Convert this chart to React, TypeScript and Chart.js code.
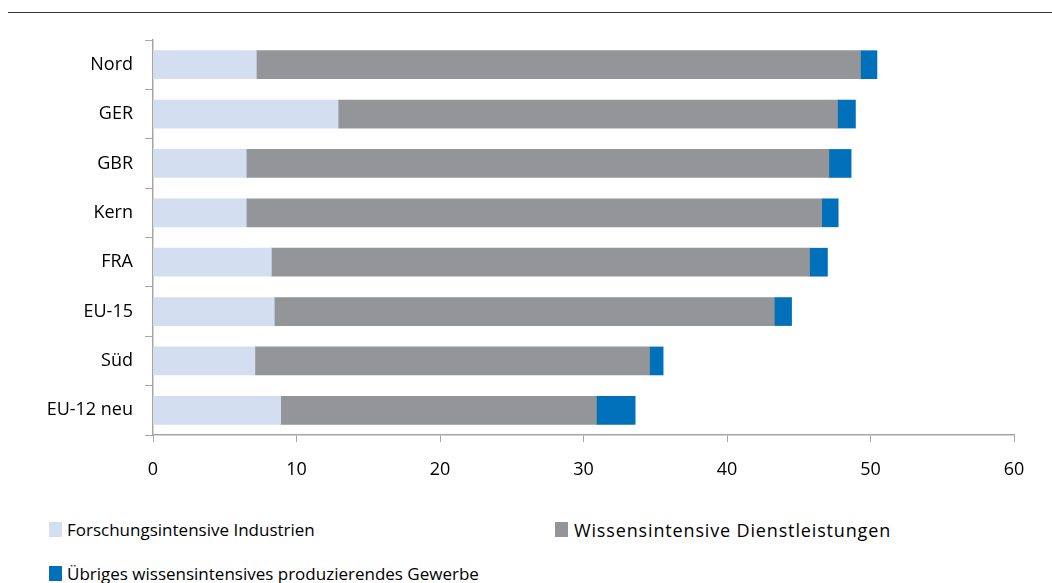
import React, { useEffect, useRef } from "react";
import { Chart, registerables } from "chart.js";

Chart.register(...registerables);

const categories = ["Nord", "GER", "GBR", "Kern", "FRA", "EU-15", "Süd", "EU-12 neu"];
const forschung = [7.2, 12.9, 6.5, 6.5, 8.25, 8.45, 7.1, 8.9];
const wissensDienst = [42.1, 34.8, 40.6, 40.1, 37.5, 34.85, 27.5, 22.0];
const uebriges = [1.15, 1.25, 1.55, 1.15, 1.25, 1.2, 0.95, 2.7];
const xTicks = [0, 10, 20, 30, 40, 50, 60];

const seriesNames = [
  "Forschungsintensive Industrien",
  "Wissensintensive Dienstleistungen",
  "Übriges wissensintensives produzierendes Gewerbe",
];
const colors = ["#D3DEF0", "#939598", "#0070BA"];

const FONT = "'Open Sans', 'Noto Sans', sans-serif";
const AXIS = "#a6a6a6";

export default function App() {
  const ref = useRef<HTMLCanvasElement | null>(null);

  useEffect(() => {
    if (!ref.current) return;
    const chart = new Chart(ref.current, {
      type: "bar",
      data: {
        labels: categories,
        datasets: [
          { label: seriesNames[0], data: forschung, backgroundColor: colors[0] },
          { label: seriesNames[1], data: wissensDienst, backgroundColor: colors[1] },
          { label: seriesNames[2], data: uebriges, backgroundColor: colors[2] },
        ],
      },
      options: {
        indexAxis: "y",
        animation: false,
        responsive: false,
        maintainAspectRatio: false,
        layout: { padding: { left: 0, right: 38, top: 40, bottom: 0 } },
        datasets: { bar: { barThickness: 28 } },
        plugins: { legend: { display: false }, tooltip: { enabled: false } },
        scales: {
          x: {
            stacked: true,
            min: 0,
            max: 60,
            afterBuildTicks: (s: any) => {
              s.ticks = xTicks.map((v) => ({ value: v }));
            },
            afterFit: (s: any) => {
              s.height = 65;
            },
            grid: {
              drawOnChartArea: false,
              drawTicks: true,
              tickLength: 7,
              color: AXIS,
            },
            border: { display: true, color: AXIS, width: 1.5 },
            ticks: {
              color: "#000",
              padding: 17,
              font: { family: FONT, size: 18 },
            },
          },
          y: {
            stacked: true,
            afterFit: (s: any) => {
              s.width = 153;
            },
            grid: {
              drawOnChartArea: false,
              drawTicks: true,
              tickLength: 8,
              color: AXIS,
              offset: true,
            },
            border: { display: true, color: AXIS, width: 1.5 },
            ticks: {
              color: "#000",
              padding: 12,
              font: { family: FONT, size: 18 },
            },
          },
        },
      },
    });
    return () => chart.destroy();
  }, []);

  const legendText: React.CSSProperties = {
    position: "absolute",
    fontFamily: FONT,
    fontSize: 17,
    color: "#000",
    lineHeight: "20px",
    whiteSpace: "nowrap",
  };
  const sq = (left: number, top: number, c: string): React.CSSProperties => ({
    position: "absolute",
    left,
    top,
    width: 13,
    height: 15,
    background: c,
  });

  return (
    <div
      style={{
        position: "fixed",
        left: 0,
        top: 0,
        width: 1052,
        height: 583,
        background: "#fff",
        overflow: "hidden",
      }}
    >
      <div style={{ position: "absolute", left: 8, right: 0, top: 12, height: 1, background: "#333" }} />
      <canvas ref={ref} width={1052} height={500} style={{ position: "absolute", left: 0, top: 0 }} />
      <div style={sq(49, 522, colors[0])} />
      <div style={{ ...legendText, left: 67, top: 520 }}>{seriesNames[0]}</div>
      <div style={sq(555, 522, colors[1])} />
      <div style={{ ...legendText, left: 574, top: 520, fontSize: 18, letterSpacing: "0.85px" }}>{seriesNames[1]}</div>
      <div style={sq(49, 566, colors[2])} />
      <div style={{ ...legendText, left: 67, top: 564 }}>{seriesNames[2]}</div>
    </div>
  );
}
